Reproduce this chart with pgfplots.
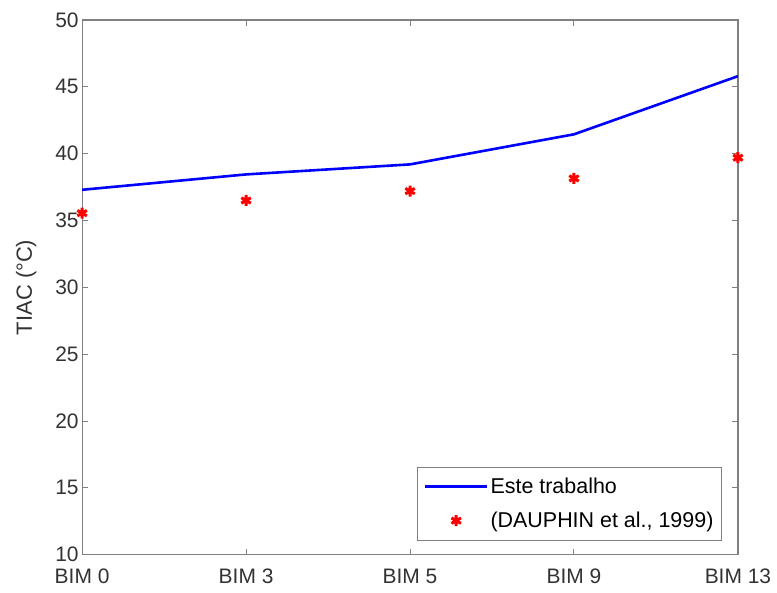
\documentclass[border=0pt]{standalone}
\usepackage{fontspec}
\setmainfont{Liberation Sans}
\usepackage{pgfplots}
\pgfplotsset{compat=1.18}
\definecolor{axgray}{RGB}{128,128,128}
\definecolor{txtgray}{RGB}{50,50,50}
\begin{document}
\begin{tikzpicture}
\begin{axis}[
    name=ax,
    scale only axis,
    width=655bp,
    height=534bp,
    xmin=0, xmax=4,
    ymin=10, ymax=50,
    xtick={0,1,2,3,4},
    xticklabels={BIM 0,BIM 3,BIM 5,BIM 9,BIM 13},
    ytick={10,15,...,50},
    ylabel={TIAC (°C)},
    /pgf/number format/assume math mode=true,
    tick label style={font=\fontsize{21}{25}\selectfont, text=txtgray},
    xticklabel style={yshift=-11bp},
    label style={font=\fontsize{22}{26}\selectfont, text=txtgray},
    ylabel style={yshift=12bp},
    axis line style={axgray, line width=1.2bp},
    tick style={axgray, line width=1bp},
    tick align=inside,
    major tick length=6bp,
    legend style={at={(1,0)}, anchor=south east, xshift=-16bp, yshift=14bp,
        draw=axgray, line width=1bp, font=\fontsize{21.5}{25}\selectfont, text=black,
        inner xsep=6bp, inner ysep=9bp, row sep=13bp, cells={anchor=west}},
    legend image code/.code={\draw[mark repeat=2,mark phase=2,#1]
        plot coordinates {(0bp,0bp) (31bp,0bp) (62bp,0bp)};},
]
\addplot[blue, line width=2.6bp] coordinates {
    (0,37.3) (1,38.45) (2,39.2) (3,41.45) (4,45.8)};
\addplot[only marks, red, mark=asterisk, mark size=5.5bp, line width=3bp] coordinates {
    (0,35.55) (1,36.5) (2,37.2) (3,38.15) (4,39.7)};
\legend{Este trabalho,(DAUPHIN et al., 1999)}
\end{axis}
\path (ax.south west) ++(-82bp,-38bp);
\path (ax.north east) ++(39bp,20bp);
\end{tikzpicture}
\end{document}
